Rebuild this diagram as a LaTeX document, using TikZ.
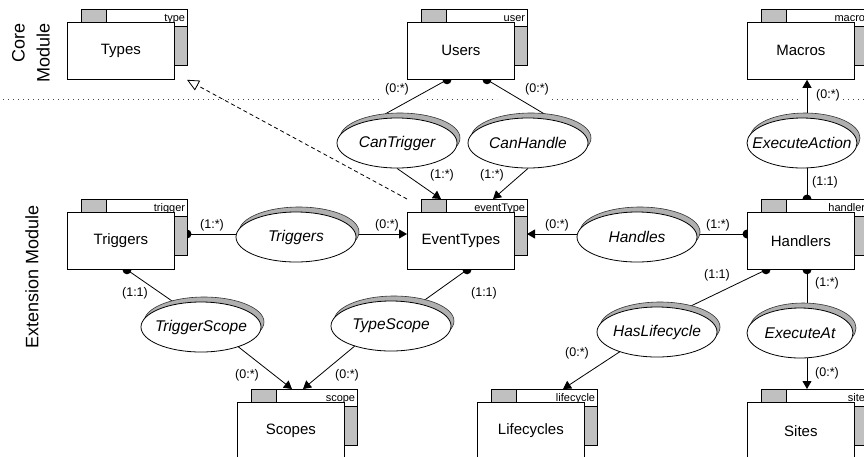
\documentclass[tikz,border=0pt]{standalone}
\usepackage{fontspec}
\setmainfont{Liberation Sans}
\usetikzlibrary{arrows.meta,calc,shadows,shapes.geometric}
\pgfdeclarelayer{bg}
\pgfsetlayers{bg,main}
\definecolor{boxgrey}{RGB}{192,192,192}
\definecolor{shgrey}{RGB}{176,176,176}
\newcommand\zw[1]{\makebox[0pt]{#1}}
\tikzset{
  mainbox/.style={draw, fill=white, line width=0.8pt, minimum width=107pt, minimum height=57pt, inner sep=0pt, anchor=north west, font=\fontsize{15}{18}\selectfont},
  backbox/.style={draw, fill=boxgrey, line width=0.8pt, minimum width=106pt, minimum height=56pt, inner sep=0pt, anchor=north west},
  tagtext/.style={font=\fontsize{11}{13}\selectfont, inner sep=0pt, anchor=base east},
  rel/.style={ellipse, draw, fill=white, line width=0.8pt, minimum height=50pt, minimum width=120pt, inner sep=0pt, font=\fontsize{15.5}{18}\selectfont\itshape, general shadow={shadow xshift=3pt, shadow yshift=5pt, fill=shgrey, draw=black!80, line width=0.6pt}},
  card/.style={font=\fontsize{12.5}{15}\selectfont, inner sep=1pt},
  conn/.style={line width=0.8pt},
  arr/.style={conn, -{Triangle[length=8pt,width=9pt]}},
  sepline/.style={line width=0.9pt, black!70, dash pattern=on 0.9pt off 4.1pt},
  modlabel/.style={rotate=90, font=\fontsize{18}{25}\selectfont, align=right, inner sep=0pt},
}
\newcommand\element[5]{%
  \node[backbox] (#1-b) at ($(#2,#3)+(14,-13)$) {};
  \draw[line width=0.8pt, fill=white] ([xshift=25pt]#1-b.north west) rectangle ([yshift=-17pt]#1-b.north east);
  \node[tagtext] (#1-t) at ([xshift=-2.5pt,yshift=-12pt]#1-b.north east) {#5};
  \node[mainbox] (#1) at (#2,#3) {#4};
}
\begin{document}
\begin{tikzpicture}[x=1pt,y=-1pt]
\useasboundingbox (0,0) rectangle (864,456);
\clip (0,0) rectangle (864,456);

% module labels
\node[modlabel] (core) at (31,53) {Core\\Module};
\node[modlabel] (ext) at (32,277) {Extension Module};

% elements
\element{types}{67}{22}{Types}{type}
\element{users}{407}{22}{Users}{user}
\element{macros}{747}{22}{Macros}{macro}
\element{triggers}{67}{212}{Triggers}{trigger}
\element{evt}{407}{212}{EventTypes}{eventType}
\element{handlers}{747}{212}{Handlers}{handler}
\element{scopes}{237}{402}{Scopes}{scope}
\element{lifecycles}{477}{402}{Lifecycles}{lifecycle}
\element{sites}{747}{402}{Sites}{site}

% relationships
\node[rel] (ct) at (397,143) {\zw{CanTrigger}};
\node[rel] (ch) at (528,143) {\zw{CanHandle}};
\node[rel, minimum width=110pt] (ea) at (802,143) {\zw{ExecuteAction}};
\node[rel] (tr) at (296,237) {\zw{Triggers}};
\node[rel] (ha) at (637,237) {\zw{Handles}};
\node[rel] (tsc) at (201,327) {\zw{TriggerScope}};
\node[rel] (ts) at (391,326) {\zw{TypeScope}};
\node[rel] (hl) at (657,332) {\zw{HasLifecycle}};
\node[rel, minimum width=106pt] (eat) at (800,333) {\zw{ExecuteAt}};

% attachment points
\coordinate (u1) at ($(users.south west)+(40,0)$);
\coordinate (u2) at ($(users.south west)+(80,0)$);
\coordinate (et1) at ($(evt.north west)+(34,-13)$);
\coordinate (et2) at ($(evt.north west)+(86,-13)$);
\coordinate (etw) at ($(evt.north west)+(0,22)$);
\coordinate (ete) at ($(evt.north west)+(120,22)$);
\coordinate (etb) at ($(evt.south west)+(60,0)$);
\coordinate (etnw) at ($(evt.north west)+(0,-13)$);
\coordinate (mac) at ($(macros.south west)+(60,0)$);
\coordinate (hdt) at ($(handlers.north west)+(60,-13)$);
\coordinate (hdw) at ($(handlers.north west)+(0,22)$);
\coordinate (hdb1) at ($(handlers.south west)+(19,0)$);
\coordinate (hdb2) at ($(handlers.south west)+(60,0)$);
\coordinate (trge) at ($(triggers.north west)+(120,22)$);
\coordinate (trgb) at ($(triggers.south west)+(60,0)$);
\coordinate (typse) at ($(types.south west)+(120,0)$);
\coordinate (sc1) at ($(scopes.north west)+(55,-13)$);
\coordinate (sc2) at ($(scopes.north west)+(66,-13)$);
\coordinate (lc) at ($(lifecycles.north west)+(86,-13)$);
\coordinate (st) at ($(sites.north west)+(60,-13)$);

\begin{pgfonlayer}{bg}
  % separator between modules
  \draw[sepline] (3,99.5) -- (380,99.5);
  \draw[sepline] (427,99.5) -- (497,99.5);
  \draw[sepline] (552,99.5) -- (800,99.5);
  \draw[sepline] (843,99.5) -- (864,99.5);
  % connectors
  \draw[conn] (u1) -- (ct.132);
  \draw[conn] (u2) -- (ch.40);
  \draw[arr] (ct.south) -- (et1);
  \draw[arr] (ch.south) -- (et2);
  \draw[arr] (ea.north -| mac) -- (mac);
  \draw[conn] (hdt) -- (ea.south -| hdt);
  \draw[conn] (trge) -- (tr.west |- trge);
  \draw[arr] (tr.east |- etw) -- (etw);
  \draw[conn] (hdw) -- (ha.east |- hdw);
  \draw[arr] (ha.west |- ete) -- (ete);
  \draw[conn] (trgb) -- (tsc.137);
  \draw[conn] (etb) -- (ts.38);
  \draw[arr] (tsc.-28) -- (sc1);
  \draw[arr] (ts.209) -- (sc2);
  \draw[conn] (hdb1) -- (hl.40);
  \draw[arr] (hl.208) -- (lc);
  \draw[conn] (hdb2) -- (eat.north -| hdb2);
  \draw[arr] (eat.south -| st) -- (st);
  \draw[conn, dash pattern=on 4pt off 3pt, -{Triangle[open, length=12pt, width=11pt, fill=white]}] (etnw) -- (typse);
  % attachment dots
  \foreach \p in {u1,u2,hdt,trge,hdw,trgb,etb,hdb1,hdb2}
    \fill (\p) circle (4.5pt);
\end{pgfonlayer}

% cardinalities
\node[card] (c1) at (397,89) {(0:*)};
\node[card] (c2) at (537,89) {(0:*)};
\node[card] (c3) at (442,175) {(1:*)};
\node[card] (c4) at (492,175) {(1:*)};
\node[card] (c5) at (828,95) {(0:*)};
\node[card] (c6) at (825,182) {(1:1)};
\node[card] (c7) at (212,225) {(1:*)};
\node[card] (c8) at (387,225) {(0:*)};
\node[card] (c9) at (557,225) {(0:*)};
\node[card] (c10) at (718,225) {(1:*)};
\node[card] (c11) at (717,275) {(1:1)};
\node[card] (c12) at (827,283) {(1:*)};
\node[card] (c13) at (135,293) {(1:1)};
\node[card] (c14) at (484,293) {(1:1)};
\node[card] (c15) at (247,375) {(0:*)};
\node[card] (c16) at (347,375) {(0:*)};
\node[card] (c17) at (577,353) {(0:*)};
\node[card] (c18) at (827,373) {(0:*)};
\end{tikzpicture}
\end{document}
